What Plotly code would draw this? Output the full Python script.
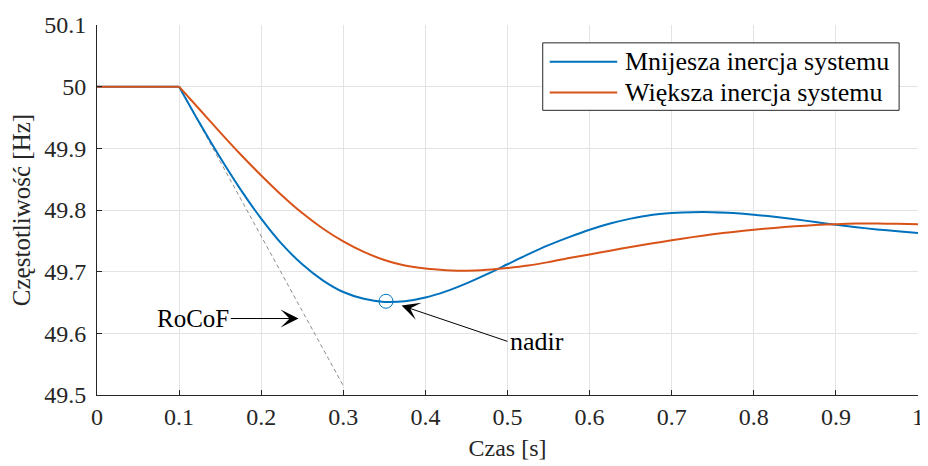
import plotly.graph_objects as go

t = [0, 0.1, 0.125, 0.15, 0.175, 0.2, 0.225, 0.25, 0.275, 0.3, 0.325, 0.35, 0.375, 0.4,
     0.425, 0.45, 0.475, 0.5, 0.525, 0.55, 0.575, 0.6, 0.625, 0.65, 0.675, 0.7, 0.725, 0.75,
     0.775, 0.8, 0.825, 0.85, 0.875, 0.9, 0.925, 0.95, 0.975, 1.0]
f_low = [50, 50, 49.941, 49.885, 49.833, 49.786, 49.745, 49.712, 49.686, 49.667, 49.656, 49.651, 49.652, 49.658,
         49.668, 49.681, 49.696, 49.712, 49.728, 49.743, 49.756, 49.768, 49.778, 49.786, 49.792, 49.795, 49.7965, 49.7965,
         49.795, 49.7925, 49.789, 49.785, 49.7805, 49.776, 49.772, 49.7685, 49.7655, 49.7625]
f_high = [50, 50, 49.963, 49.926, 49.890, 49.856, 49.824, 49.795, 49.770, 49.749, 49.732, 49.719, 49.710, 49.705,
          49.7025, 49.7015, 49.703, 49.706, 49.710, 49.7155, 49.722, 49.728, 49.734, 49.740, 49.7455, 49.751, 49.756, 49.7605,
          49.7645, 49.768, 49.771, 49.7735, 49.7755, 49.777, 49.778, 49.778, 49.7775, 49.777]
rocof_t = [0.1, 0.3]
rocof_f = [50, 49.515]
nadir_t = [0.352]
nadir_f = [49.652]

x_ticks = [0, 0.1, 0.2, 0.3, 0.4, 0.5, 0.6, 0.7, 0.8, 0.9, 1]
x_labels = ["0", "0.1", "0.2", "0.3", "0.4", "0.5", "0.6", "0.7", "0.8", "0.9", "1"]
y_ticks = [49.5, 49.6, 49.7, 49.8, 49.9, 50, 50.1]
y_labels = ["49.5", "49.6", "49.7", "49.8", "49.9", "50", "50.1"]

names = ["Mnijesza inercja systemu", "Większa inercja systemu"]
colors = ["#0072BD", "#D95319"]
FONT = "Liberation Serif"
AX = "#262626"

fig = go.Figure()
fig.add_trace(go.Scatter(x=rocof_t, y=rocof_f, mode="lines", showlegend=False,
                         line=dict(color="#8c8c8c", width=1, dash="4px,3px")))
for series, name, col in zip([f_low, f_high], names, colors):
    # flat pre-disturbance part (sharp corner at t=0.1), then smooth response
    fig.add_trace(go.Scatter(x=t[:2], y=series[:2], mode="lines", name=name, showlegend=False,
                             line=dict(color=col, width=2)))
    fig.add_trace(go.Scatter(x=t[1:], y=series[1:], mode="lines", name=name, showlegend=False,
                             line=dict(color=col, width=2, shape="spline", smoothing=0.8)))
fig.add_trace(go.Scatter(x=nadir_t, y=nadir_f, mode="markers", showlegend=False,
                         marker=dict(symbol="circle-open", size=14, color=colors[0],
                                     line=dict(width=1, color=colors[0]))))

fig.add_annotation(x=0.2455, y=49.624, ax=0.163, ay=49.624, axref="x", ayref="y",
                   text="RoCoF", showarrow=True, arrowhead=3, arrowsize=3, arrowwidth=1,
                   arrowcolor="black", xanchor="right", yanchor="middle",
                   font=dict(family=FONT, size=25, color="black"))
fig.add_annotation(x=0.371, y=49.645, ax=0.5, ay=49.587, axref="x", ayref="y",
                   text="nadir", showarrow=True, arrowhead=3, arrowsize=3, arrowwidth=1,
                   arrowcolor="black", xanchor="left", yanchor="middle",
                   font=dict(family=FONT, size=26, color="black"))

# custom legend (MATLAB-style box with long line samples)
fig.add_shape(type="rect", xref="paper", yref="paper", x0=0.5429, x1=0.977, y0=0.7694, y1=0.9517,
              fillcolor="white", line=dict(color=AX, width=1), layer="above")
leg_y = [0.9008, 0.8177]
for name, col, ly in zip(names, colors, leg_y):
    fig.add_shape(type="line", xref="paper", yref="paper", x0=0.5514, x1=0.6336, y0=ly, y1=ly,
                  line=dict(color=col, width=2), layer="above")
    fig.add_annotation(xref="paper", yref="paper", x=0.6409, y=ly, text=name, showarrow=False,
                       xanchor="left", yanchor="middle",
                       font=dict(family=FONT, size=26, color="black"))

fig.update_layout(
    width=920, height=458,
    margin=dict(l=89, r=4, t=14, b=71),
    paper_bgcolor="white", plot_bgcolor="white",
    font=dict(family=FONT, size=24, color=AX),
    showlegend=False,
    xaxis=dict(range=[0, 1], tickvals=x_ticks, ticktext=x_labels, showgrid=True, gridcolor="#e3e3e3",
               showline=True, linecolor=AX, linewidth=1, ticks="inside", ticklen=5,
               tickcolor=AX, zeroline=False, mirror=False, ticklabeloverflow="allow",
               tickfont=dict(family=FONT, size=24, color=AX),
               title=dict(text="Czas [s]", standoff=10, font=dict(family=FONT, size=24, color=AX))),
    yaxis=dict(range=[49.5, 50.1], tickvals=y_ticks, ticktext=y_labels, showgrid=True, gridcolor="#e3e3e3",
               showline=True, linecolor=AX, linewidth=1, ticks="inside", ticklen=5,
               tickcolor=AX, zeroline=False, mirror=False, ticklabelstandoff=5,
               tickfont=dict(family=FONT, size=24, color=AX),
               title=dict(text="Częstotliwość [Hz]", standoff=10, font=dict(family=FONT, size=25, color=AX))),
)

fig.write_html("out.html")
